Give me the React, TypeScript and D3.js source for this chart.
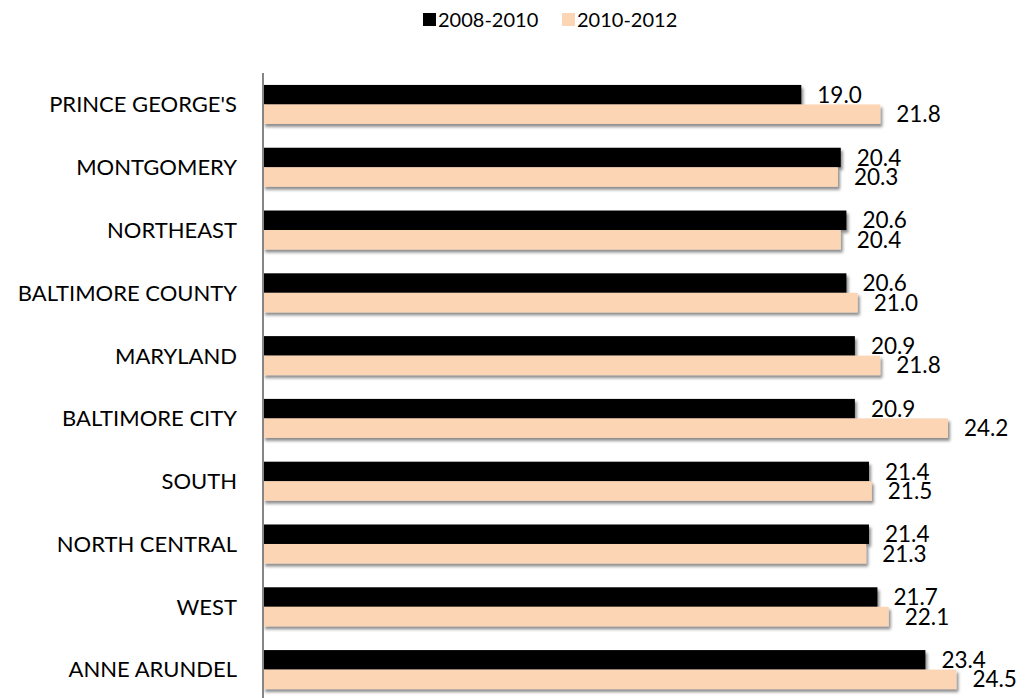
import React from "react";
import * as d3 from "d3";

const categories = [
  "PRINCE GEORGE'S",
  "MONTGOMERY",
  "NORTHEAST",
  "BALTIMORE COUNTY",
  "MARYLAND",
  "BALTIMORE CITY",
  "SOUTH",
  "NORTH CENTRAL",
  "WEST",
  "ANNE ARUNDEL",
];
const seriesNames = ["2008-2010", "2010-2012"];
const values2008 = [19.0, 20.4, 20.6, 20.6, 20.9, 20.9, 21.4, 21.4, 21.7, 23.4];
const values2010 = [21.8, 20.3, 20.4, 21.0, 21.8, 24.2, 21.5, 21.3, 22.1, 24.5];
const colors = ["#000000", "#FCD5B5"];

const W = 1025;
const H = 698;
const FONT = "Lato, 'Open Sans', sans-serif";

export default function App() {
  const series = [values2008, values2010];
  const axisX = 263;
  const x = d3.scaleLinear().domain([0, 26]).range([265.5, 265.5 + 26 * 28.2]);
  const y = d3
    .scaleBand<string>()
    .domain(categories)
    .range([73, 701])
    .paddingInner(0.379)
    .paddingOuter(0.19);
  const ys = d3
    .scaleBand<string>()
    .domain(seriesNames)
    .range([0, y.bandwidth()])
    .padding(0);

  return (
    <svg
      width={W}
      height={H}
      style={{ position: "absolute", left: 0, top: 0, background: "#fff" }}
      fontFamily={FONT}
    >
      <defs>
        <filter id="shadow" x="-5%" y="-30%" width="115%" height="190%">
          <feDropShadow dx="2" dy="3" stdDeviation="1.6" floodColor="#000" floodOpacity="0.45" />
        </filter>
      </defs>
      <rect width={W} height={H} fill="#fff" />

      {/* legend */}
      {seriesNames.map((s, i) => {
        const lx = [423, 562][i];
        return (
          <g key={s}>
            <rect x={lx} y={13} width={13} height={13} fill={colors[i]} />
            <text x={lx + 15} y={26.5} fontSize={20} fill="#000">
              {s}
            </text>
          </g>
        );
      })}

      {/* bars */}
      {categories.map((c, ci) => (
        <g key={c}>
          {series.map((vals, si) => {
            const by = (y(c) as number) + (ys(seriesNames[si]) as number);
            return (
              <rect
                key={si}
                x={axisX}
                y={by}
                width={x(vals[ci]) - axisX}
                height={ys.bandwidth()}
                fill={colors[si]}
                filter="url(#shadow)"
              />
            );
          })}
        </g>
      ))}

      {/* data labels */}
      {categories.map((c, ci) => (
        <g key={c + "l"}>
          {series.map((vals, si) => {
            const by = (y(c) as number) + (ys(seriesNames[si]) as number) + ys.bandwidth() / 2;
            return (
              <text
                key={si}
                x={x(vals[ci]) + 16}
                y={by}
                dy="0.36em"
                fontSize={22.5}
                fill="#000"
              >
                {vals[ci].toFixed(1)}
              </text>
            );
          })}
        </g>
      ))}

      {/* category labels */}
      {categories.map((c) => (
        <text
          key={c + "c"}
          x={237}
          y={(y(c) as number) + y.bandwidth() / 2}
          dy="0.36em"
          textAnchor="end"
          fontSize={22}
          fill="#000"
        >
          {c}
        </text>
      ))}

      {/* axis */}
      <line x1={axisX} x2={axisX} y1={73} y2={701} stroke="#868686" strokeWidth={2} />
    </svg>
  );
}
